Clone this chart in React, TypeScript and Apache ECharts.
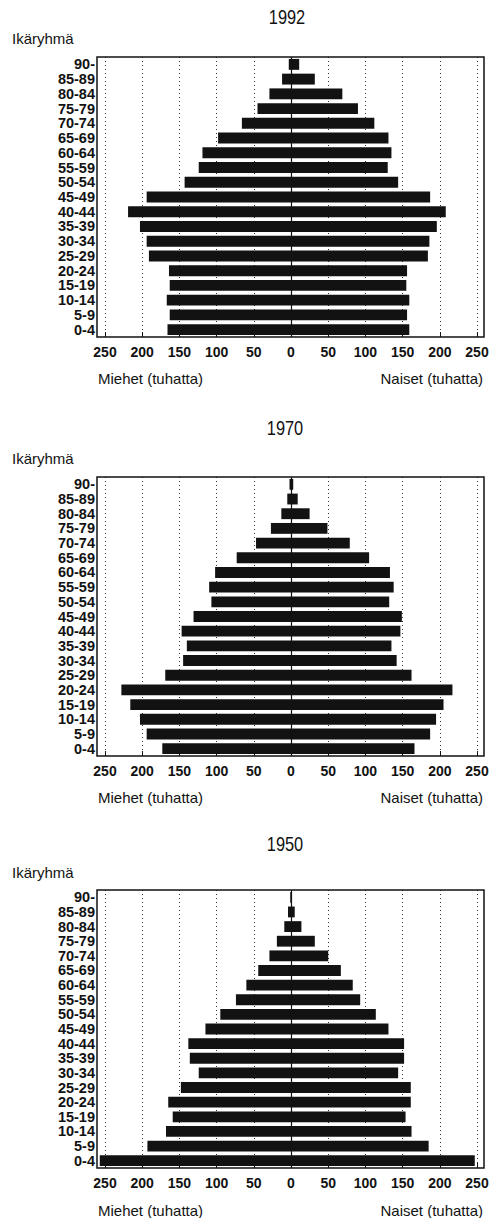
import React, { useEffect, useRef } from "react";
import * as echarts from "echarts";

const AGE_GROUPS = ["90-", "85-89", "80-84", "75-79", "70-74", "65-69", "60-64", "55-59", "50-54", "45-49", "40-44", "35-39", "30-34", "25-29", "20-24", "15-19", "10-14", "5-9", "0-4"];

const MEN_1992 = [3, 12, 29, 45, 66, 98, 119, 124, 143, 194, 219, 203, 194, 191, 164, 163, 167, 163, 166];
const WOMEN_1992 = [11, 32, 69, 90, 112, 131, 135, 130, 144, 187, 208, 196, 186, 184, 156, 155, 159, 156, 159];
const MEN_1970 = [2, 5, 13, 27, 47, 73, 102, 110, 107, 131, 147, 140, 145, 169, 228, 216, 203, 194, 173];
const WOMEN_1970 = [3, 9, 25, 49, 79, 105, 133, 138, 132, 149, 147, 135, 142, 162, 217, 205, 195, 187, 166];
const MEN_1950 = [1, 4, 9, 19, 29, 44, 60, 74, 95, 115, 138, 136, 124, 148, 165, 159, 168, 193, 257];
const WOMEN_1950 = [1, 5, 14, 32, 50, 67, 83, 93, 114, 131, 152, 152, 144, 161, 161, 154, 162, 185, 247];

const YEARS = ["1992", "1970", "1950"];
const X_MIN = -250;
const X_MAX = 250;
const X_STEP = 50;
const Y_LABEL = "Ikäryhmä";
const MEN_LABEL = "Miehet (tuhatta)";
const WOMEN_LABEL = "Naiset (tuhatta)";

const PANELS = [
  { year: YEARS[0], men: MEN_1992, women: WOMEN_1992, top: 57, bottom: 337, titleX: 287, titleY: 17, ikaY: 38, nameY: 378 },
  { year: YEARS[1], men: MEN_1970, women: WOMEN_1970, top: 477, bottom: 756, titleX: 285, titleY: 428, ikaY: 458, nameY: 797 },
  { year: YEARS[2], men: MEN_1950, women: WOMEN_1950, top: 890, bottom: 1168, titleX: 285, titleY: 844, ikaY: 872, nameY: 1210 },
];

const FONT = "'Liberation Sans', Arial, Helvetica, sans-serif";
const INK = "#121212";
const GRID_LEFT = 105;
const GRID_WIDTH = 372;
const BOX_LEFT = 97;
const BOX_RIGHT = 484;

export default function App() {
  const ref = useRef<HTMLDivElement>(null);
  useEffect(() => {
    document.body.style.margin = "0";
    const chart = echarts.init(ref.current!, null, { renderer: "svg" });
    const grids: any[] = [];
    const xAxes: any[] = [];
    const yAxes: any[] = [];
    const series: any[] = [];
    const graphics: any[] = [];
    PANELS.forEach((p, i) => {
      grids.push({ left: GRID_LEFT, width: GRID_WIDTH, top: p.top, height: p.bottom - p.top });
      xAxes.push({
        type: "value",
        gridIndex: i,
        min: X_MIN,
        max: X_MAX,
        interval: X_STEP,
        axisLine: { show: false },
        axisTick: { show: true, inside: true, length: 5, lineStyle: { color: INK, width: 1 } },
        axisLabel: {
          margin: 8,
          fontFamily: FONT,
          fontWeight: "bold",
          fontSize: 14,
          color: INK,
          formatter: (v: number) => String(Math.abs(v)),
        },
        splitLine: { show: true, lineStyle: { color: "#333", type: [1, 3], width: 1 } },
      });
      yAxes.push({
        type: "category",
        gridIndex: i,
        inverse: true,
        data: AGE_GROUPS,
        axisLine: { show: false, onZero: false },
        axisTick: { show: false },
        axisLabel: { margin: 10, fontFamily: FONT, fontWeight: "bold", fontSize: 14.5, color: INK, interval: 0 },
        splitLine: { show: false },
      });
      series.push({
        type: "bar",
        name: "Miehet " + p.year,
        xAxisIndex: i,
        yAxisIndex: i,
        stack: "p" + i,
        clip: false,
        barWidth: "74%",
        itemStyle: { color: INK },
        data: p.men.map((v) => -v),
        markLine: {
          silent: true,
          symbol: "none",
          label: { show: false },
          lineStyle: { color: INK, type: "solid", width: 1.2 },
          data: [{ xAxis: 0 }],
        },
      });
      series.push({
        type: "bar",
        name: "Naiset " + p.year,
        xAxisIndex: i,
        yAxisIndex: i,
        stack: "p" + i,
        clip: false,
        barWidth: "74%",
        itemStyle: { color: INK },
        data: p.women,
      });
      graphics.push({
        type: "rect",
        z: 100,
        silent: true,
        shape: { x: BOX_LEFT, y: p.top, width: BOX_RIGHT - BOX_LEFT, height: p.bottom - p.top },
        style: { fill: "none", stroke: INK, lineWidth: 1.5 },
      });
      graphics.push({
        type: "text",
        x: p.titleX,
        y: p.titleY,
        scaleX: 0.82,
        style: { text: p.year, fontFamily: FONT, fontSize: 20, fill: INK, textAlign: "center", textVerticalAlign: "middle" },
      });
      graphics.push({
        type: "text",
        x: 12,
        y: p.ikaY,
        style: { text: Y_LABEL, fontFamily: FONT, fontSize: 15, fill: INK, textAlign: "left", textVerticalAlign: "middle" },
      });
      graphics.push({
        type: "text",
        x: 98,
        y: p.nameY,
        style: { text: MEN_LABEL, fontFamily: FONT, fontSize: 15, fill: INK, textAlign: "left", textVerticalAlign: "middle" },
      });
      graphics.push({
        type: "text",
        x: 483,
        y: p.nameY,
        style: { text: WOMEN_LABEL, fontFamily: FONT, fontSize: 15, fill: INK, textAlign: "right", textVerticalAlign: "middle" },
      });
    });
    chart.setOption({
      animation: false,
      backgroundColor: "#ffffff",
      grid: grids,
      xAxis: xAxes,
      yAxis: yAxes,
      series,
      graphic: graphics,
    });
    return () => chart.dispose();
  }, []);
  return <div ref={ref} style={{ width: 495, height: 1218 }} />;
}
